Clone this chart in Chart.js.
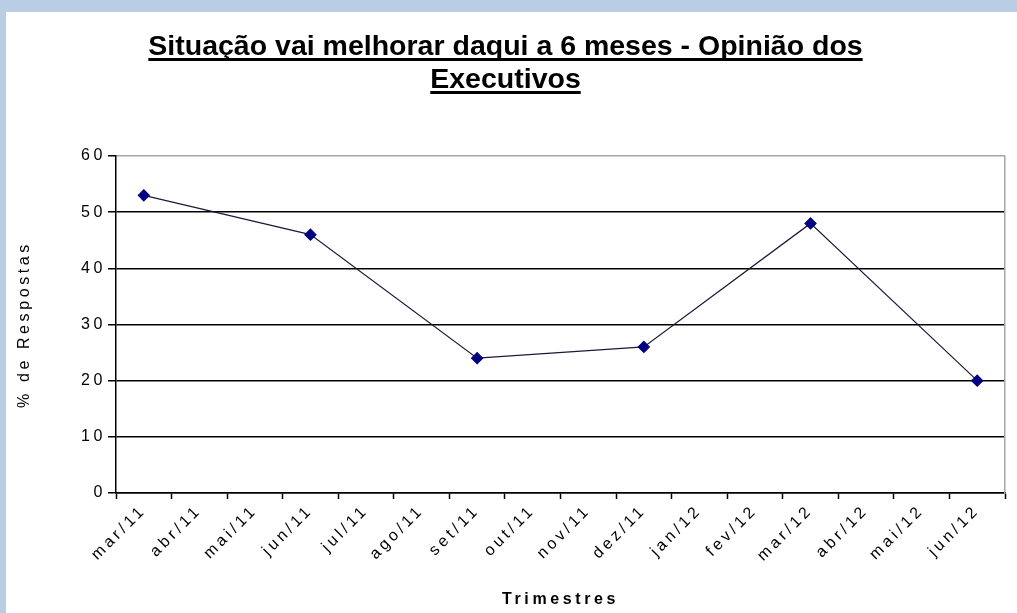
<!DOCTYPE html>
<html>
<head>
<meta charset="utf-8">
<script src="https://cdn.jsdelivr.net/npm/chart.js@4"></script>
<style>
    html, body { margin: 0; padding: 0; width: 1017px; height: 613px; overflow: hidden; background: #b9cde5; }
    #box { position: absolute; left: 6px; top: 12px; width: 1011px; height: 601px; background: #fff; }
</style>
</head>
<body>
<div id="box"><canvas id="chart"></canvas></div>
<script>
const titleLines = ["Situação vai melhorar daqui a 6 meses - Opinião dos", "Executivos"];
const months = ["mar/11", "abr/11", "mai/11", "jun/11", "jul/11", "ago/11", "set/11", "out/11",
    "nov/11", "dez/11", "jan/12", "fev/12", "mar/12", "abr/12", "mai/12", "jun/12"];
const respostas = [53, null, null, 46, null, null, 24, null, null, 26, null, null, 48, null, null, 20];
const yMin = 0;
const yMax = 60;
const yStep = 10;

const spacing = "3.6px";
const font = "'Liberation Sans', Arial, sans-serif";

// Excel-like wide letter spacing for the axis texts
const spacingPlugin = {
    id: "spacing",
    beforeLayout(chart) { chart.ctx.letterSpacing = spacing; },
    beforeDraw(chart) { chart.ctx.letterSpacing = spacing; }
};

// underlined bold title drawn above the plot
const titlePlugin = {
    id: "bigTitle",
    afterDraw(chart) {
        const ctx = chart.ctx;
        const cx = chart.width / 2 - 6;
        ctx.save();
        ctx.letterSpacing = "0px";
        ctx.font = "bold 28.5px " + font;
        ctx.fillStyle = "#000";
        ctx.textAlign = "center";
        ctx.textBaseline = "alphabetic";
        titleLines.forEach((line, i) => {
            const y = 43 + i * 33;
            ctx.fillText(line, cx, y);
            const w = ctx.measureText(line).width;
            ctx.fillRect(cx - w / 2, y + 3, w, 3);
        });
        ctx.restore();
    }
};

function createChart() {
    const ctx = document.getElementById("chart").getContext("2d");

    new Chart(ctx, {
        type: "line",
        data: {
            labels: months,
            datasets: [{
                label: "% de Respostas",
                data: respostas,
                spanGaps: true,
                borderColor: "#1a1a3a",
                borderWidth: 1.2,
                pointStyle: "rectRot",
                pointRadius: 5.5,
                pointHoverRadius: 5.5,
                pointBackgroundColor: "#000080",
                pointBorderColor: "#000080",
                tension: 0
            }]
        },
        plugins: [spacingPlugin, titlePlugin],
        options: {
            responsive: true,
            maintainAspectRatio: false,
            animation: false,
            events: [],
            layout: { padding: { top: 144, right: 12, left: 0, bottom: 0 } },
            plugins: {
                legend: { display: false },
                tooltip: { enabled: false }
            },
            scales: {
                x: {
                    offset: true,
                    afterFit: scale => { scale.height = 120; },
                    grid: {
                        offset: true,
                        drawOnChartArea: false,
                        drawTicks: true,
                        tickLength: 6,
                        tickColor: "#000",
                        tickWidth: 1.5
                    },
                    border: { color: "#000", width: 1.5 },
                    ticks: {
                        color: "#000",
                        font: { family: font, size: 16 },
                        minRotation: 45,
                        maxRotation: 45,
                        autoSkip: false,
                        padding: 2
                    },
                    title: {
                        display: true,
                        text: "Trimestres",
                        color: "#000",
                        font: { family: font, size: 16, weight: "bold" },
                        padding: { top: 0, bottom: 4 }
                    }
                },
                y: {
                    min: yMin,
                    max: yMax,
                    afterFit: scale => { scale.width = 110; },
                    grid: {
                        color: c => (c.tick && c.tick.value === yMax ? "#a6a6a6" : "#000"),
                        lineWidth: 1.5,
                        tickLength: 8,
                        tickColor: "#000"
                    },
                    border: { color: "#000", width: 1.5 },
                    ticks: {
                        stepSize: yStep,
                        color: "#000",
                        font: { family: font, size: 16 },
                        padding: 2
                    },
                    title: {
                        display: true,
                        text: "% de Respostas",
                        color: "#000",
                        font: { family: font, size: 16 },
                        padding: { top: 9, bottom: 0 }
                    }
                },
                yRight: {
                    position: "right",
                    min: yMin,
                    max: yMax,
                    afterFit: scale => { scale.width = 0; },
                    grid: { drawOnChartArea: false, drawTicks: false },
                    border: { color: "#a6a6a6", width: 1.5 },
                    ticks: { display: false }
                }
            }
        }
    });
}

createChart();
</script>
</body>
</html>
